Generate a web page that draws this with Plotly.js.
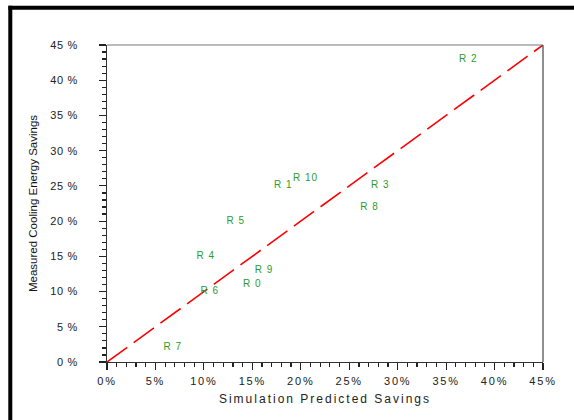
<!DOCTYPE html>
<html>
<head>
<meta charset="utf-8">
<script src="https://cdn.plot.ly/plotly-3.0.1.min.js"></script>
<style>
  html, body { margin: 0; padding: 0; background: #fff; }
  #chart { width: 574px; height: 420px; }
  .xtick text { letter-spacing: 1.8px; }
  .ytick text { letter-spacing: 0.6px; }
  .g-xtitle text { letter-spacing: 2px; }
  .textpoint text { letter-spacing: 1px; }
</style>
</head>
<body>
<div id="chart"></div>
<script>
// Data
const siteLabels = ["R 0", "R 1", "R 2", "R 3", "R 4", "R 5", "R 6", "R 7", "R 8", "R 9", "R 10"];
const simulatedSavings = [15.0, 18.2, 37.3, 28.2, 10.2, 13.3, 10.6, 6.8, 27.1, 16.2, 20.5];
const measuredSavings  = [11.0, 25.0, 43.0, 25.0, 15.0, 20.0, 10.0, 2.1, 22.0, 13.0, 26.0];
const parityLineX = [0, 45];
const parityLineY = [0, 45];
const axisRange = [0, 45];
const majorTickStep = 5;
const minorTickStep = 1;
const xTickSuffix = "%";
const yTickSuffix = " %";

const font = "Liberation Sans, Arial, sans-serif";

const traces = [
  {
    x: parityLineX, y: parityLineY,
    mode: "lines", type: "scatter",
    line: { color: "#ff0000", width: 1.6, dash: "25px,8px" },
    hoverinfo: "skip", showlegend: false
  },
  {
    x: simulatedSavings, y: measuredSavings,
    mode: "text", type: "scatter",
    text: siteLabels,
    textposition: "middle center",
    textfont: { family: font, size: 10, color: "#2e9a2e" },
    showlegend: false
  }
];

const axisCommon = {
  range: axisRange,
  dtick: majorTickStep,
  showgrid: false, zeroline: false,
  showline: true, linecolor: "#333", linewidth: 1,
  ticks: "outside", ticklen: 7, tickwidth: 1.2, tickcolor: "#222",
  minor: { dtick: minorTickStep, ticks: "outside", ticklen: 4, tickwidth: 1.2, tickcolor: "#222", showgrid: false },
  tickfont: { family: font, size: 11, color: "#222" }
};

const layout = {
  width: 574, height: 420,
  margin: { l: 107, r: 31, t: 44.5, b: 57.5 },
  paper_bgcolor: "#ffffff", plot_bgcolor: "#ffffff",
  showlegend: false,
  xaxis: Object.assign({}, axisCommon, {
    ticksuffix: xTickSuffix,
    ticklabelstandoff: 2,
    title: { text: "Simulation Predicted Savings", font: { family: font, size: 12, color: "#222" }, standoff: 8 }
  }),
  yaxis: Object.assign({}, axisCommon, {
    ticksuffix: yTickSuffix,
    ticklabelstandoff: 19,
    title: { text: "Measured Cooling Energy Savings", font: { family: font, size: 11.5, color: "#111" }, standoff: 10 }
  }),
  shapes: [
    // top and right frame of the plot area
    { type: "line", xref: "paper", yref: "paper", x0: 0, x1: 1, y0: 1, y1: 1, line: { color: "#777", width: 1.2 } },
    { type: "line", xref: "paper", yref: "paper", x0: 1, x1: 1, y0: 0, y1: 1, line: { color: "#444", width: 1.2 } },
    // outer page border (left and top)
    { type: "line", xref: "paper", yref: "paper", x0: -0.2218, x1: -0.2218, y0: 1.124, y1: -0.2,
      line: { color: "#000", width: 4 } },
    { type: "line", xref: "paper", yref: "paper", x0: -0.226, x1: 1.1, y0: 1.1179, y1: 1.1179,
      line: { color: "#000", width: 4 } }
  ]
};

Plotly.newPlot("chart", traces, layout, { displayModeBar: false, staticPlot: true });
</script>
</body>
</html>
